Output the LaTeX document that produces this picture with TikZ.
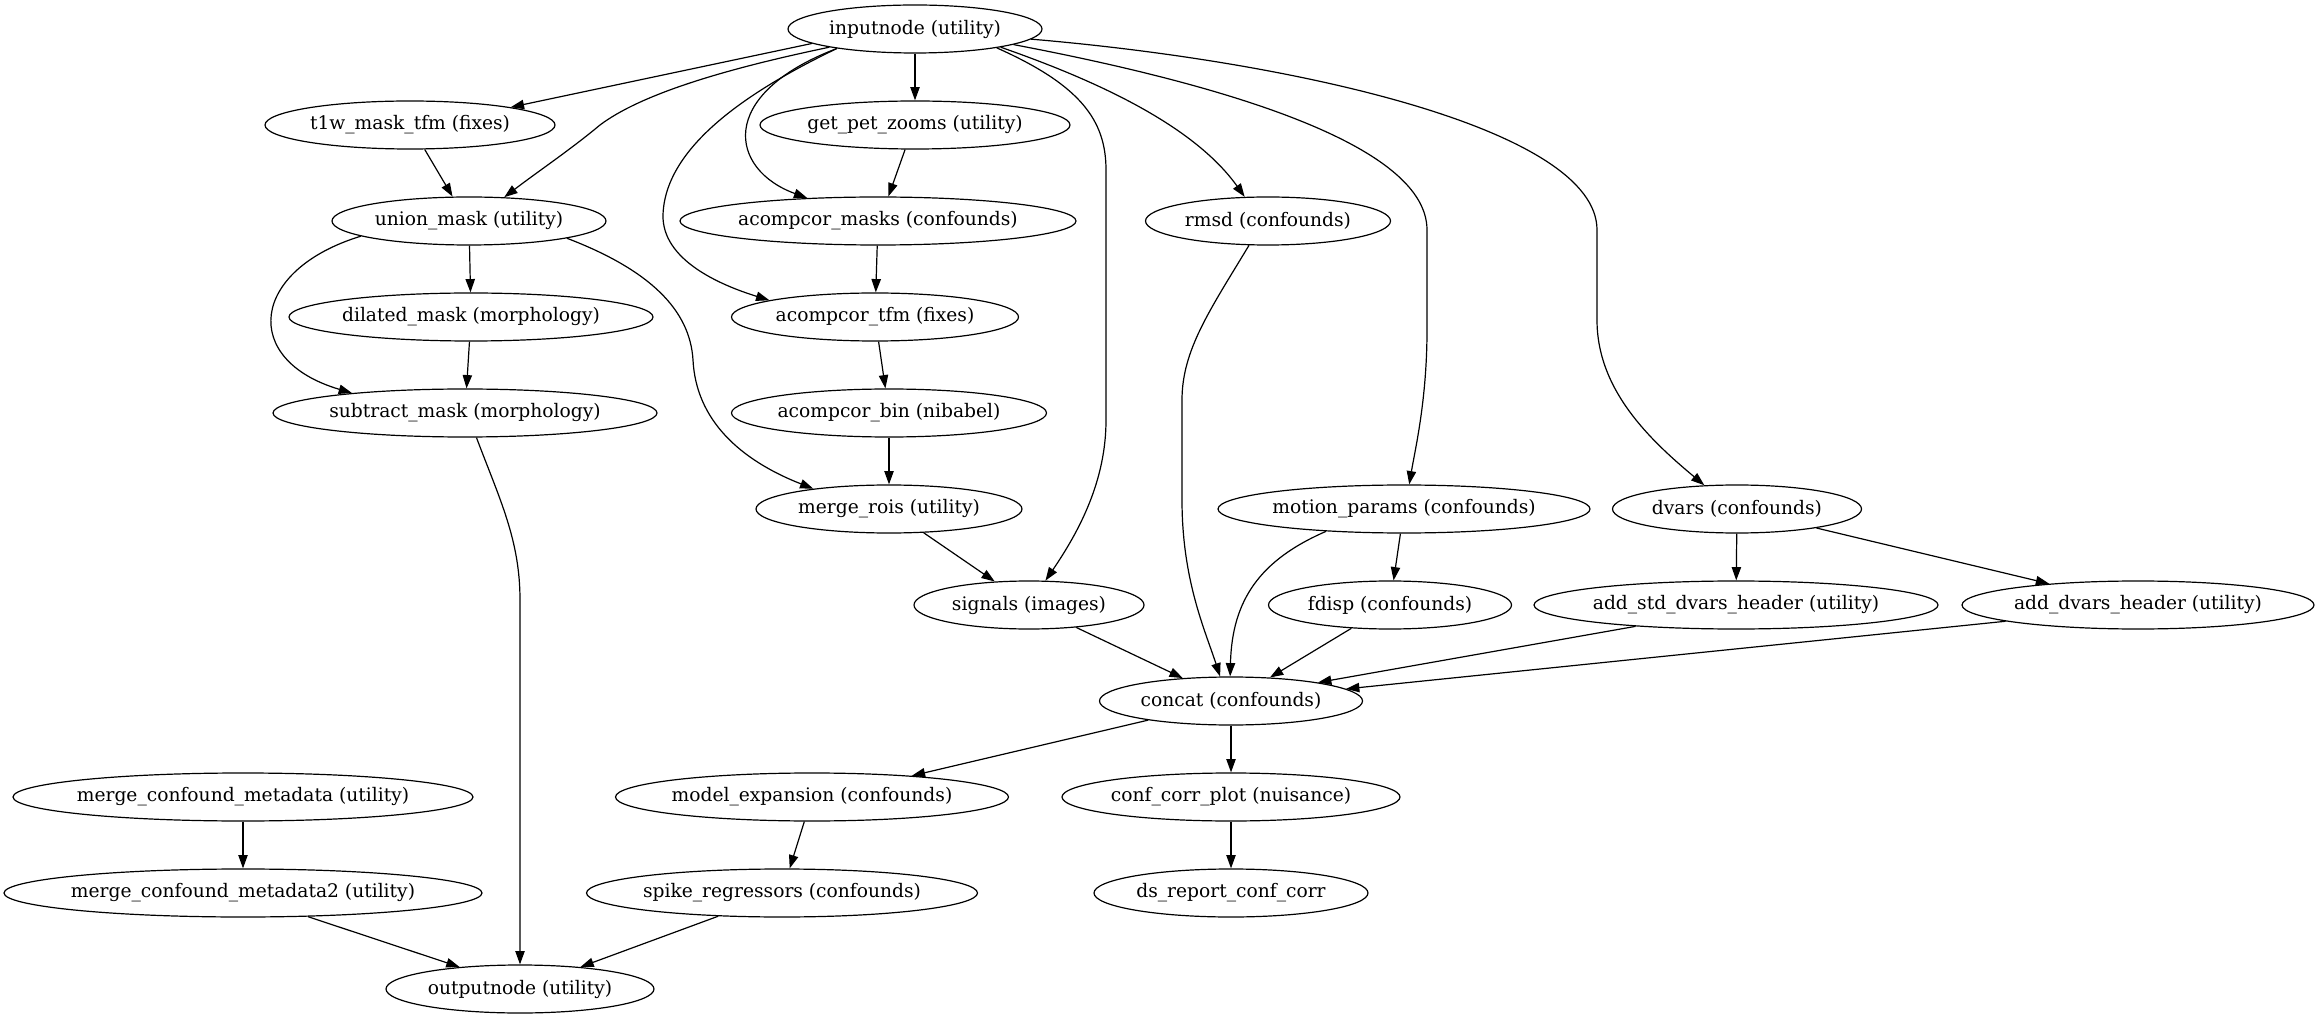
\documentclass[tikz,border=0pt]{standalone}
\usepackage{fontspec}
\setmainfont{DejaVu Serif}
\usetikzlibrary{arrows.meta,shapes.geometric}
\begin{document}
\begin{tikzpicture}[x=0.75pt,y=-0.75pt,
  nd/.style={draw,ellipse,line width=0.9pt,minimum height=36pt,minimum width={0.75pt*#1},
    inner xsep=-5pt,inner ysep=0pt,font=\fontsize{14pt}{16pt}\selectfont},
  ar/.style={-{Triangle[length=10pt,width=7pt]},line width=0.9pt}]
\useasboundingbox (0,0) rectangle (2320,1019);
% rank 0
\node[nd=254] (inputnode) at (915,29) {inputnode (utility)};
% rank 1
\node[nd=290] (t1w) at (410,125) {t1w\_mask\_tfm (fixes)};
\node[nd=310] (getpet) at (915,125) {get\_pet\_zooms (utility)};
% rank 2
\node[nd=274] (union) at (469,221) {union\_mask (utility)};
\node[nd=396] (acmasks) at (878,221) {acompcor\_masks (confounds)};
\node[nd=245] (rmsd) at (1268,221) {rmsd (confounds)};
% rank 3
\node[nd=364] (dilated) at (471,317) {dilated\_mask (morphology)};
\node[nd=287] (actfm) at (875,317) {acompcor\_tfm (fixes)};
% rank 4
\node[nd=384] (subtract) at (465,413) {subtract\_mask (morphology)};
\node[nd=315] (acbin) at (889,413) {acompcor\_bin (nibabel)};
% rank 5
\node[nd=266] (mergerois) at (889,509) {merge\_rois (utility)};
\node[nd=372] (motion) at (1404,509) {motion\_params (confounds)};
\node[nd=249] (dvars) at (1737,509) {dvars (confounds)};
% rank 6
\node[nd=230] (signals) at (1029,605) {signals (images)};
\node[nd=243] (fdisp) at (1390,605) {fdisp (confounds)};
\node[nd=404] (addstd) at (1736,605) {add\_std\_dvars\_header (utility)};
\node[nd=352] (adddvars) at (2138,605) {add\_dvars\_header (utility)};
% rank 7
\node[nd=263] (concat) at (1231,701) {concat (confounds)};
% rank 8
\node[nd=460] (mcm) at (243,797) {merge\_confound\_metadata (utility)};
\node[nd=393] (modelexp) at (812,797) {model\_expansion (confounds)};
\node[nd=338] (confcorr) at (1231,797) {conf\_corr\_plot (nuisance)};
% rank 9
\node[nd=478] (mcmtwo) at (243,893) {merge\_confound\_metadata2 (utility)};
\node[nd=391] (spike) at (782,893) {spike\_regressors (confounds)};
\node[nd=274] (dsreport) at (1231,893) {ds\_report\_conf\_corr};
% rank 10
\node[nd=268] (output) at (520,989) {outputnode (utility)};

% edges from inputnode
\draw[ar] (inputnode.188.7) -- (t1w.10.3);
\draw[ar] (inputnode.192.7) .. controls (720,70) and (640,95) .. (600,125) .. controls (570,150) and (540,170) .. (union.34);
\draw[ar] (inputnode) -- (getpet);
\draw[ar] (inputnode.194) .. controls (715,95) and (730,170) .. (acmasks.162);
\draw[ar] (inputnode.194.7) .. controls (740,95) and (665,150) .. (663,215) .. controls (662,260) and (720,285) .. (actfm.171);
\draw[ar] (inputnode.-13.9) .. controls (1080,85) and (1106,120) .. (1106,170) -- (1106,420) .. controls (1106,480) and (1080,530) .. (signals.56);
\draw[ar] (inputnode.-12.7) .. controls (1080,75) and (1190,120) .. (rmsd.134);
\draw[ar] (inputnode.-9.4) .. controls (1200,80) and (1427,140) .. (1427,230) -- (1427,330) .. controls (1427,400) and (1415,450) .. (motion.78);
\draw[ar] (inputnode.-5) .. controls (1300,62) and (1597,130) .. (1597,230) -- (1597,320) .. controls (1597,390) and (1650,440) .. (dvars.144);

% other edges
\draw[ar] (t1w.-59) -- (union.124);
\draw[ar] (getpet.-112) -- (acmasks.67);
\draw[ar] (union) -- (dilated);
\draw[ar] (union.188.7) .. controls (250,270) and (240,360) .. (subtract.170);
\draw[ar] (union.-10.1) .. controls (650,270) and (690,310) .. (693,360) .. controls (696,420) and (740,460) .. (mergerois.165);
\draw[ar] (acmasks) -- (actfm);
\draw[ar] (dilated) -- (subtract);
\draw[ar] (actfm) -- (acbin);
\draw[ar] (acbin) -- (mergerois);
\draw[ar] (mergerois) -- (signals);
\draw[ar] (rmsd.232.4) .. controls (1210,310) and (1182,350) .. (1182,400) -- (1182,500) .. controls (1182,580) and (1205,630) .. (concat.114.6);
\draw[ar] (subtract.-65.4) .. controls (500,500) and (520,540) .. (520,600) -- (output);
\draw[ar] (motion.196.8) .. controls (1260,560) and (1232,600) .. (concat.92);
\draw[ar] (motion) -- (fdisp);
\draw[ar] (dvars) -- (addstd);
\draw[ar] (dvars) -- (adddvars);
\draw[ar] (signals) -- (concat);
\draw[ar] (fdisp) -- (concat);
\draw[ar] (addstd.192) -- (concat.12);
\draw[ar] (adddvars.187.7) -- (concat.6.9);
\draw[ar] (concat.193.7) -- (modelexp.12.3);
\draw[ar] (concat) -- (confcorr);
\draw[ar] (mcm) -- (mcmtwo);
\draw[ar] (modelexp) -- (spike);
\draw[ar] (confcorr) -- (dsreport);
\draw[ar] (mcmtwo.-20.3) -- (output.160.5);
\draw[ar] (spike.200.9) -- (output.20.4);
\end{tikzpicture}
\end{document}
